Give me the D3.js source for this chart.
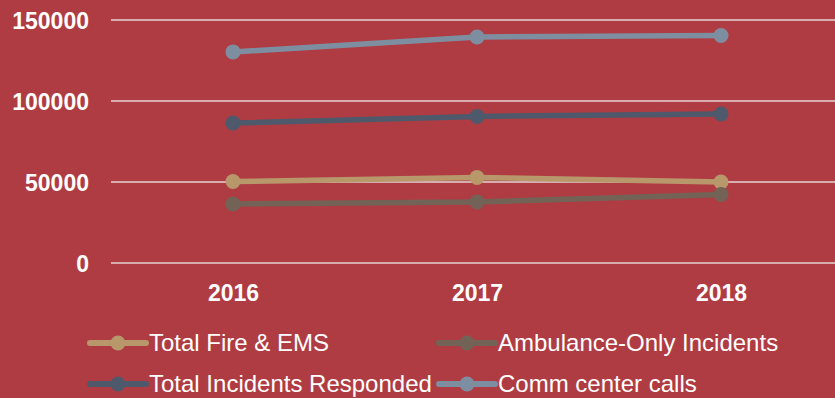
<!DOCTYPE html>
<html>
<head>
<meta charset="utf-8">
<script src="https://cdn.jsdelivr.net/npm/d3@7"></script>
<style>
  html, body { margin: 0; padding: 0; background: #B03C43; }
  svg { display: block; font-family: "Liberation Sans", Arial, sans-serif; }
</style>
</head>
<body>
<svg id="chart" width="835" height="398"></svg>
<script>
// Yearly call and incident counts
const years = ["2016", "2017", "2018"];
const seriesNames = ["Total Fire & EMS", "Ambulance-Only Incidents", "Total Incidents Responded", "Comm center calls"];
const totalFireEms = [50300, 52800, 50000];
const ambulanceOnly = [36400, 37700, 42300];
const totalIncidents = [86400, 90500, 92000];
const commCenterCalls = [130300, 139500, 140400];
const yTicks = [0, 50000, 100000, 150000];
const colors = ["#B8976B", "#736357", "#4E5A6B", "#7E8EA1"];

const series = [totalFireEms, ambulanceOnly, totalIncidents, commCenterCalls];
const svg = d3.select("#chart");
const width = 835;

const x = d3.scalePoint().domain(years).range([233, 721]);
const y = d3.scaleLinear().domain([0, 150000]).range([263, 20]);

// Gridlines
svg.append("g").selectAll("line").data(yTicks).join("line")
  .attr("x1", 111).attr("x2", width)
  .attr("y1", d => y(d)).attr("y2", d => y(d))
  .attr("stroke", "#E6D3D4").attr("stroke-width", 1.6);

// Y axis labels
const yAxis = d3.axisLeft(y).tickValues(yTicks).tickSize(0).tickPadding(0).tickFormat(d3.format("d"));
const yg = svg.append("g").attr("transform", "translate(89,0)").call(yAxis);
yg.attr("font-size", null).attr("font-family", null);
yg.select(".domain").remove();
yg.selectAll("text").attr("fill", "#FFFFFF").style("font-size", "23px").style("font-weight", "bold")
  .attr("dy", "0.35em");

// X axis labels
const xAxis = d3.axisBottom(x).tickSize(0).tickPadding(0);
const xg = svg.append("g").attr("transform", "translate(0,301)").call(xAxis);
xg.attr("font-size", null).attr("font-family", null);
xg.select(".domain").remove();
xg.selectAll("text").attr("fill", "#FFFFFF").style("font-size", "23px").style("font-weight", "bold")
  .attr("dy", 0);

// Lines and markers
const line = d3.line().x((d, i) => x(years[i])).y(d => y(d));
series.forEach((vals, si) => {
  const g = svg.append("g");
  g.append("path").datum(vals).attr("d", line)
    .attr("fill", "none").attr("stroke", colors[si]).attr("stroke-width", 5.5)
    .attr("stroke-linejoin", "round");
  g.selectAll("circle").data(vals).join("circle")
    .attr("cx", (d, i) => x(years[i])).attr("cy", d => y(d)).attr("r", 7.5)
    .attr("fill", colors[si]);
});

// Legend
const legendPos = [[90, 343], [439, 343], [90, 384], [439, 384]];
seriesNames.forEach((name, i) => {
  const [lx, ly] = legendPos[i];
  const g = svg.append("g").attr("transform", `translate(${lx},${ly})`);
  g.append("line").attr("x1", 0).attr("x2", 56).attr("y1", 0).attr("y2", 0)
    .attr("stroke", colors[i]).attr("stroke-width", 6).attr("stroke-linecap", "round");
  g.append("circle").attr("cx", 28).attr("cy", 0).attr("r", 7.5).attr("fill", colors[i]);
  g.append("text").attr("x", 59).attr("y", 0).attr("dy", "0.35em")
    .attr("fill", "#FFFFFF").style("font-size", "24px").text(name);
});
</script>
</body>
</html>
